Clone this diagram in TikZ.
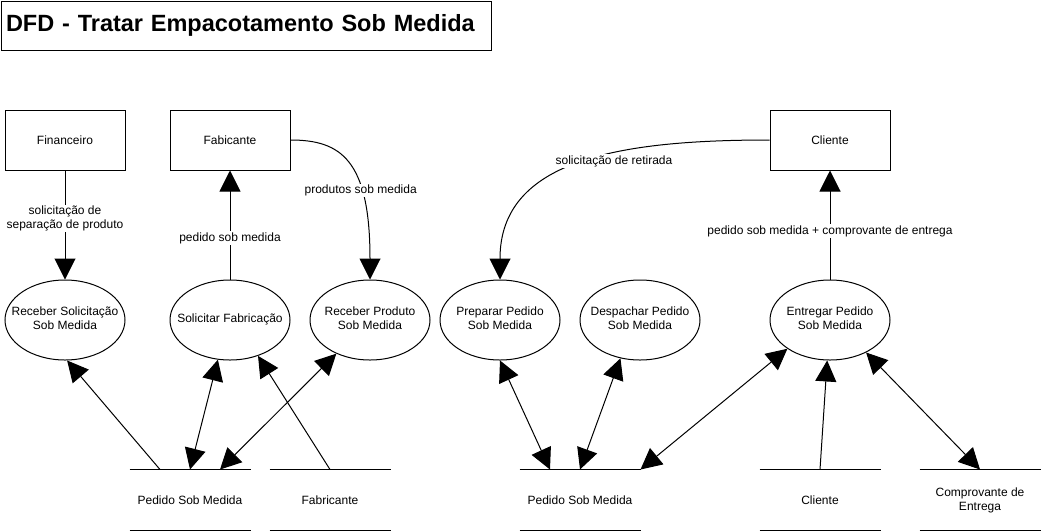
\documentclass[tikz,border=0pt]{standalone}
\usepackage{fontspec}
\setmainfont{Liberation Sans}
\usetikzlibrary{shapes.geometric,arrows.meta,calc}
\newcommand{\ptxt}[1]{\makebox[0pt]{\raisebox{-2.5pt}{\begin{tabular}{@{}c@{}}#1\end{tabular}}}}
\begin{document}
\begin{tikzpicture}[x=1pt,y=-1pt,
  every node/.style={font=\fontsize{12}{14}\selectfont, text=black},
  ent/.style={draw, minimum width=120pt, minimum height=60pt, inner sep=0pt},
  proc/.style={draw, ellipse, minimum width=120pt, minimum height=80pt, inner sep=0pt},
  store/.style={minimum width=120pt, minimum height=60pt, inner sep=0pt, align=center,
     append after command={(\tikzlastnode.north west) edge (\tikzlastnode.north east)
                           (\tikzlastnode.south west) edge (\tikzlastnode.south east)}},
  flow/.style={-{Triangle[length=21pt,width=21pt]}},
  bflow/.style={{Triangle[length=21pt,width=21pt]}-{Triangle[length=21pt,width=21pt]}},
  lbl/.style={fill=white, inner sep=1pt, align=center},
  line width=1pt]
\useasboundingbox (0,0) rectangle (1041,531);

% title
\node[draw, anchor=north west, minimum width=490pt, minimum height=49pt, inner xsep=5pt,
      text width=480pt, align=left, font=\bfseries\fontsize{23.5}{28}\selectfont] (title) at (0.5,0.5)
      {DFD - Tratar Empacotamento Sob Medida};

% external entities
\node[ent] (fin) at (65,140) {Financeiro};
\node[ent] (fab) at (230,140) {Fabicante};
\node[ent] (cli) at (830,140) {Cliente};

% processes
\node[proc] (rs) at (65,320) {\ptxt{Receber Solicitação\\Sob Medida}};
\node[proc] (sf) at (230,320) {\ptxt{Solicitar Fabricação}};
\node[proc] (rp) at (370,320) {\ptxt{Receber Produto\\Sob Medida}};
\node[proc] (pp) at (500,320) {\ptxt{Preparar Pedido\\Sob Medida}};
\node[proc] (dp) at (640,320) {\ptxt{Despachar Pedido\\Sob Medida}};
\node[proc] (ep) at (830,320) {\ptxt{Entregar Pedido\\Sob Medida}};

% data stores
\node[store] (ps1) at (190,500) {Pedido Sob Medida};
\node[store] (fs) at (330,500) {Fabricante};
\node[store] (ps2) at (580,500) {Pedido Sob Medida};
\node[store] (cs) at (820,500) {Cliente};
\node[store] (ce) at (980,500) {Comprovante de\\Entrega};

% top flows
\draw[flow] (fin) -- node[lbl,pos=0.44]{solicitação de\\separação de produto} (rs);
\draw[flow] (sf) -- node[lbl,pos=0.38]{pedido sob medida} (fab);
\draw[flow] (fab.east) .. controls +(50,0) and +(0,-120) .. node[lbl,pos=0.67]{produtos sob medida} (rp.north);
\draw[flow] (cli.west) .. controls +(-150,0) and +(0,-120) .. (pp.north);
\node[lbl] (lret) at (614,161) {solicitação de retirada};
\draw[flow] (ep) -- node[lbl,pos=0.445]{pedido sob medida + comprovante de entrega} (cli);

% store flows
\draw[flow] ($(ps1.north)+(-30,0)$) -- (rs.-87);
\draw[bflow] (sf.-107) -- (ps1.north);
\draw[bflow] (rp.-135) -- ($(ps1.north)+(30,0)$);
\draw[flow] (fs.north) -- (sf.-52);
\draw[bflow] (pp.south) -- ($(ps2.north)+(-30,0)$);
\draw[bflow] (dp.-117) -- (ps2.north);
\draw[bflow] (ep.-146) -- (ps2.north east);
\draw[flow] (cs.north) -- (ep.-94);
\draw[bflow] (ep.-42) -- (ce.north);
\end{tikzpicture}
\end{document}
